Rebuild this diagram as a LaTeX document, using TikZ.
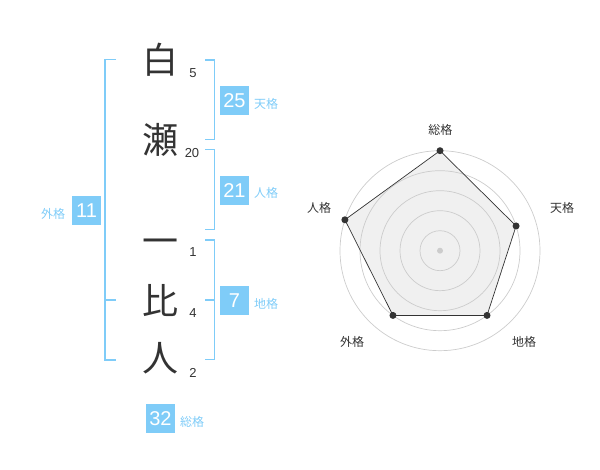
\documentclass[tikz,border=0pt]{standalone}
\usepackage{fontspec}
\setmainfont{Liberation Sans}
\newfontfamily\cjk{Noto Sans CJK JP}
\definecolor{skyb}{HTML}{7FCCF8}
\definecolor{dark}{HTML}{333333}
\definecolor{gridc}{HTML}{CCCCCC}
\definecolor{polyf}{HTML}{F0F0F0}
\tikzset{
  kanji/.style={inner sep=0pt, text=dark, font=\cjk\fontsize{36}{36}\selectfont},
  strokes/.style={inner sep=0pt, text=dark, font=\fontsize{13}{13}\selectfont},
  numbox/.style={fill=skyb, text=white, minimum width=29pt, minimum height=29pt, inner sep=0pt, font=\fontsize{20}{20}\selectfont},
  kaku/.style={inner sep=0pt, text=skyb, font=\cjk\fontsize{12}{12}\selectfont},
  bracket/.style={draw=skyb, line width=1.6pt},
  rlabel/.style={inner sep=0pt, text=dark, font=\cjk\fontsize{12}{12}\selectfont},
  ring/.style={draw=gridc, line width=0.7pt},
  vdot/.style={circle, fill=dark, inner sep=0pt, minimum size=7pt},
}
\begin{document}
\begin{tikzpicture}[x=1pt,y=-1pt]
\useasboundingbox (0,0) rectangle (600,470);
% characters
\node[kanji] (c1) at (160,60) {白};
\node[kanji] (c2) at (160,140) {瀬};
\node[kanji] (c3) at (160,247) {一};
\node[kanji] (c4) at (160,301) {比};
\node[kanji] (c5) at (160,358) {人};
% stroke counts
\node[strokes] (s1) at (193,73) {5};
\node[strokes] (s2) at (192,153) {20};
\node[strokes] (s3) at (193,252) {1};
\node[strokes] (s4) at (193,313) {4};
\node[strokes] (s5) at (193,373) {2};
% brackets
\draw[bracket] (116,59.5) -- (105,59.5) -- (105,360) -- (116,360);
\draw[bracket] (105,300) -- (116,300);
\draw[bracket] (205,60) -- (214.5,60) -- (214.5,139.5) -- (205,139.5);
\draw[bracket] (205,149.5) -- (214.5,149.5) -- (214.5,229.5) -- (205,229.5);
\draw[bracket] (205,240) -- (214.5,240) -- (214.5,359.5) -- (205,359.5);
\draw[bracket] (205,300) -- (214.5,300);
% boxes
\node[numbox] (b1) at (234.5,100.5) {25};
\node[kaku] (k1) at (266,104) {天格};
\node[numbox] (b2) at (234.5,190.5) {21};
\node[kaku] (k2) at (266,193) {人格};
\node[numbox] (b3) at (86.5,210.5) {11};
\node[kaku] (k3) at (53,214) {外格};
\node[numbox] (b4) at (234.5,300.5) {7};
\node[kaku] (k4) at (266,304) {地格};
\node[numbox] (b5) at (160.5,418.5) {32};
\node[kaku] (k5) at (192,422) {総格};
% radar
\coordinate (o) at (440,250.7);
\coordinate (p1) at ({440+100*cos(90)},{250.7-100*sin(90)});
\coordinate (p2) at ({440+80*cos(18)},{250.7-80*sin(18)});
\coordinate (p3) at ({440+80*cos(-54)},{250.7-80*sin(-54)});
\coordinate (p4) at ({440+80*cos(-126)},{250.7-80*sin(-126)});
\coordinate (p5) at ({440+100*cos(162)},{250.7-100*sin(162)});
\fill[polyf] (p1) -- (p2) -- (p3) -- (p4) -- (p5) -- cycle;
\foreach \r in {20,40,60,80,100} { \draw[ring] (o) circle (\r); }
\fill[gridc] (o) circle (3);
\draw[dark, line width=0.7pt] (p1) -- (p2) -- (p3) -- (p4) -- (p5) -- cycle;
\foreach \i in {1,...,5} { \node[vdot] (d\i) at (p\i) {}; }
\node[rlabel] (r1) at (440.3,130) {総格};
\node[rlabel] (r2) at (562,208) {天格};
\node[rlabel] (r3) at (524,342) {地格};
\node[rlabel] (r4) at (352,342) {外格};
\node[rlabel] (r5) at (319,208) {人格};
\end{tikzpicture}
\end{document}
